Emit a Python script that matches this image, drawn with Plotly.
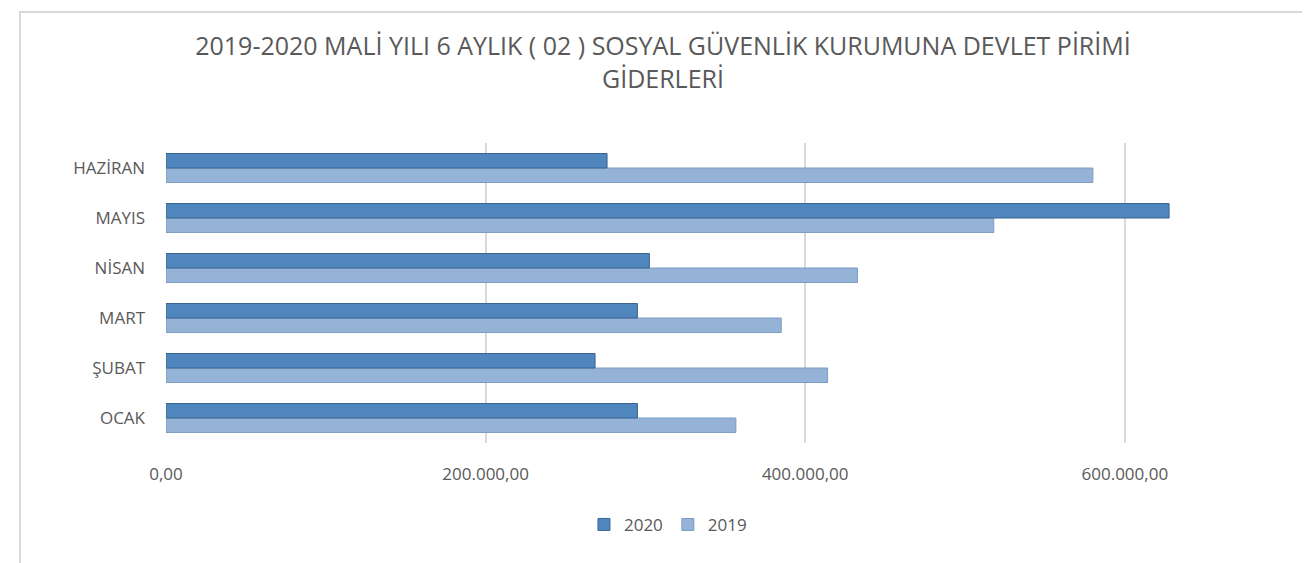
import plotly.graph_objects as go

months = ['OCAK', 'ŞUBAT', 'MART', 'NİSAN', 'MAYIS', 'HAZİRAN']
val_2019 = [356600, 414000, 385000, 432700, 518000, 580000]
val_2020 = [295000, 268500, 295000, 302500, 627700, 276000]
tick_vals = [0, 200000, 400000, 600000]

title = '2019-2020 MALİ YILI 6 AYLIK ( 02 ) SOSYAL GÜVENLİK KURUMUNA DEVLET PİRİMİ<br>GİDERLERİ'
grey = '#595959'
font_family = 'Open Sans, sans-serif'

fig = go.Figure()
# first trace sits lower in each group for horizontal bars
fig.add_trace(go.Bar(y=months, x=val_2019, name='2019', orientation='h',
                     marker=dict(color='#95b3d7', line=dict(color='#7d9cc2', width=1))))
fig.add_trace(go.Bar(y=months, x=val_2020, name='2020', orientation='h',
                     marker=dict(color='#4f86bd', line=dict(color='#3b6590', width=1))))

# light frame around the chart area, as in the spreadsheet export
fig.add_shape(type='rect', xref='paper', yref='paper',
              x0=-0.1325, x1=1.06, y0=-0.45, y1=1.4367,
              line=dict(color='#d9d9d9', width=2), fillcolor='rgba(0,0,0,0)', layer='below')

fig.update_layout(
    width=1310, height=563,
    title=dict(text=title, x=0.5, xanchor='center', xref='container',
               y=0.916, yanchor='top', yref='container',
               font=dict(family=font_family, size=25, color=grey)),
    separators=',.',
    barmode='group', bargap=0.42, bargroupgap=0,
    plot_bgcolor='white', paper_bgcolor='white',
    margin=dict(l=158, r=50, t=135, b=128),
    xaxis=dict(range=[0, 689600], tickvals=tick_vals, tickformat=',.2f',
               showgrid=True, gridcolor='#d9d9d9', gridwidth=2, zeroline=False,
               showline=False, ticks='', ticklabelstandoff=19,
               tickfont=dict(family=font_family, size=17, color=grey)),
    yaxis=dict(showgrid=False, zeroline=False, showline=False, ticks='',
               ticklabelstandoff=20,
               tickfont=dict(family=font_family, size=17, color=grey)),
    legend=dict(orientation='h', x=0.4555, xanchor='center', y=-0.273, yanchor='middle',
                traceorder='reversed', itemwidth=30,
                font=dict(family=font_family, size=17, color=grey)),
    showlegend=True,
)

fig.write_html("out.html")
